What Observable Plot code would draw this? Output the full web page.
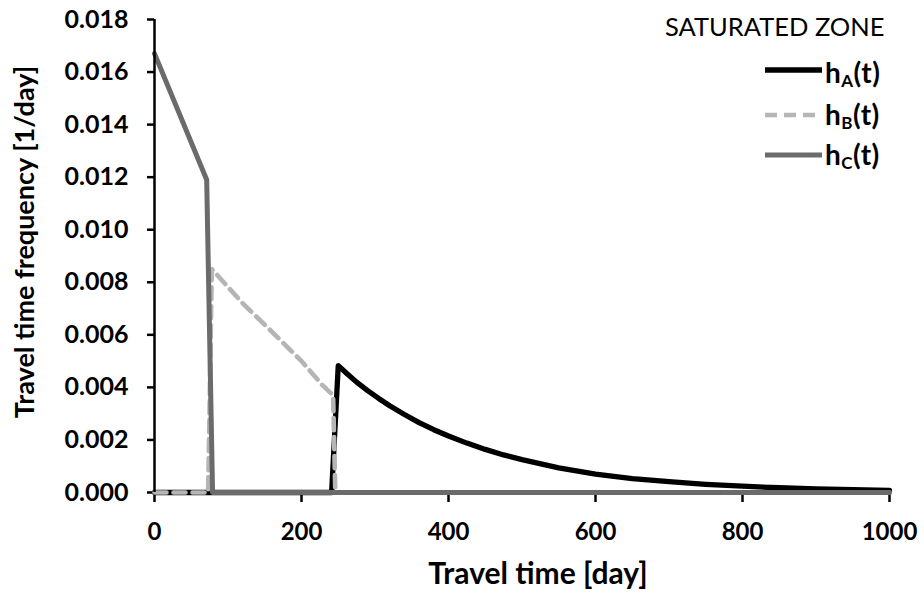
<!DOCTYPE html>
<html><head><meta charset="utf-8">
<script src="https://cdn.jsdelivr.net/npm/d3@7"></script>
<script src="https://cdn.jsdelivr.net/npm/@observablehq/plot@0.6"></script>
<style>
body{margin:0;background:#fff;}
#wrap{position:relative;width:924px;height:594px;font-family:Lato,sans-serif;color:#000;}
.lg{position:absolute;white-space:nowrap;}
.lt{font-size:25.5px;line-height:25px;font-weight:400;}
.li{font-size:28px;line-height:26px;font-weight:700;letter-spacing:0.5px;}
.li sub{font-size:17px;vertical-align:-4px;line-height:0;}
#legsvg{position:absolute;left:0;top:0;}
</style></head><body><div id="wrap"></div>
<script>
// Series: travel time t [day] and frequency h [1/day]
const tA = [0, 241, 250, 262, 275, 290, 305, 320, 340, 360, 380, 400, 425, 450, 475, 500, 550, 600, 650, 700, 750, 800, 850, 900, 950, 1000];
const hA = [0, 0, 0.00483, 0.00452, 0.0042, 0.00388, 0.00358, 0.0033, 0.00297, 0.00266, 0.00239, 0.00215, 0.00188, 0.00164, 0.00143, 0.00125, 0.00094, 0.0007, 0.00053, 0.00041, 0.00031, 0.00024, 0.00018, 0.00014, 0.00011, 0.00008];
const tB = [0, 73, 78, 120, 164, 200, 228, 243, 246, 1000];
const hB = [0, 0, 0.0085, 0.0072, 0.0060, 0.0050, 0.0041, 0.0037, 0, 0];
const tC = [0, 71, 79, 1000];
const hC = [0.0167, 0.0119, 0, 0];
const xTicks = [0, 200, 400, 600, 800, 1000];
const yTicks = [0, 0.002, 0.004, 0.006, 0.008, 0.010, 0.012, 0.014, 0.016, 0.018];
const seriesNames = ["A", "B", "C"];
const legendTitle = "SATURATED ZONE";
const xTitle = "Travel time [day]";
const yTitle = "Travel time frequency [1/day]";

const A = tA.map((t, i) => ({t, v: hA[i]}));
const B = tB.map((t, i) => ({t, v: hB[i]}));
const C = tC.map((t, i) => ({t, v: hC[i]}));

const chart = Plot.plot({
  width: 924, height: 594,
  marginLeft: 154, marginRight: 35, marginTop: 19, marginBottom: 102,
  x: {domain: [0, 1000]},
  y: {domain: [0, 0.018]},
  style: {fontFamily: "Lato", fontWeight: "bold", fontSize: "24px", color: "#000", background: "#fff"},
  marks: [
    Plot.axisX({ticks: xTicks, tickFormat: d3.format("d"), tickSize: 10, tickPadding: 20, strokeWidth: 2.5, label: null, fontSize: 24}),
    Plot.axisY({ticks: yTicks, tickFormat: d3.format(".3f"), tickSize: 7, tickPadding: 19, strokeWidth: 2.5, label: null, fontSize: 25}),
    Plot.line(A, {x: "t", y: "v", stroke: "#000", strokeWidth: 5.3}),
    Plot.line(B, {x: "t", y: "v", stroke: "#b5b5b5", strokeWidth: 4.6, strokeDasharray: "12,7"}),
    Plot.line(C, {x: "t", y: "v", stroke: "#6b6b6b", strokeWidth: 5}),
    Plot.ruleX([0], {y1: 0, y2: 0.018, stroke: "#000", strokeWidth: 2.5}),
    Plot.text([xTitle], {frameAnchor: "bottom", textAnchor: "middle", lineAnchor: "middle", dx: 16, dy: 82, fontSize: 30, fontWeight: "bold"}),
    Plot.text([yTitle], {frameAnchor: "left", textAnchor: "middle", lineAnchor: "middle", rotate: -90, dx: -129, dy: -14, fontSize: 27, fontWeight: "bold"})
  ]
});
const wrap = document.getElementById("wrap");
wrap.appendChild(chart);

// Legend overlay
const ns = "http://www.w3.org/2000/svg";
const lsvg = document.createElementNS(ns, "svg");
lsvg.setAttribute("id", "legsvg");
lsvg.setAttribute("width", 924); lsvg.setAttribute("height", 200);
const styles = [
  {stroke: "#000", w: 5.3, dash: null, y: 70, base: 83},
  {stroke: "#b5b5b5", w: 4.6, dash: "12,7", y: 115, base: 125},
  {stroke: "#6b6b6b", w: 5, dash: null, y: 155, base: 165}
];
wrap.appendChild(lsvg);
const t = document.createElement("div");
t.className = "lg lt"; t.textContent = legendTitle;
t.style.left = "665px"; t.style.top = "14px";
wrap.appendChild(t);
seriesNames.forEach((s, i) => {
  const st = styles[i];
  const l = document.createElementNS(ns, "line");
  l.setAttribute("x1", 765); l.setAttribute("x2", 822);
  l.setAttribute("y1", st.y); l.setAttribute("y2", st.y);
  l.setAttribute("stroke", st.stroke); l.setAttribute("stroke-width", st.w);
  if (st.dash) l.setAttribute("stroke-dasharray", st.dash);
  lsvg.appendChild(l);
  const d = document.createElement("div");
  d.className = "lg li";
  d.innerHTML = "h<sub>" + s + "</sub>(t)";
  d.style.left = "825px"; d.style.top = (st.base - 24) + "px";
  wrap.appendChild(d);
});
</script></body></html>
